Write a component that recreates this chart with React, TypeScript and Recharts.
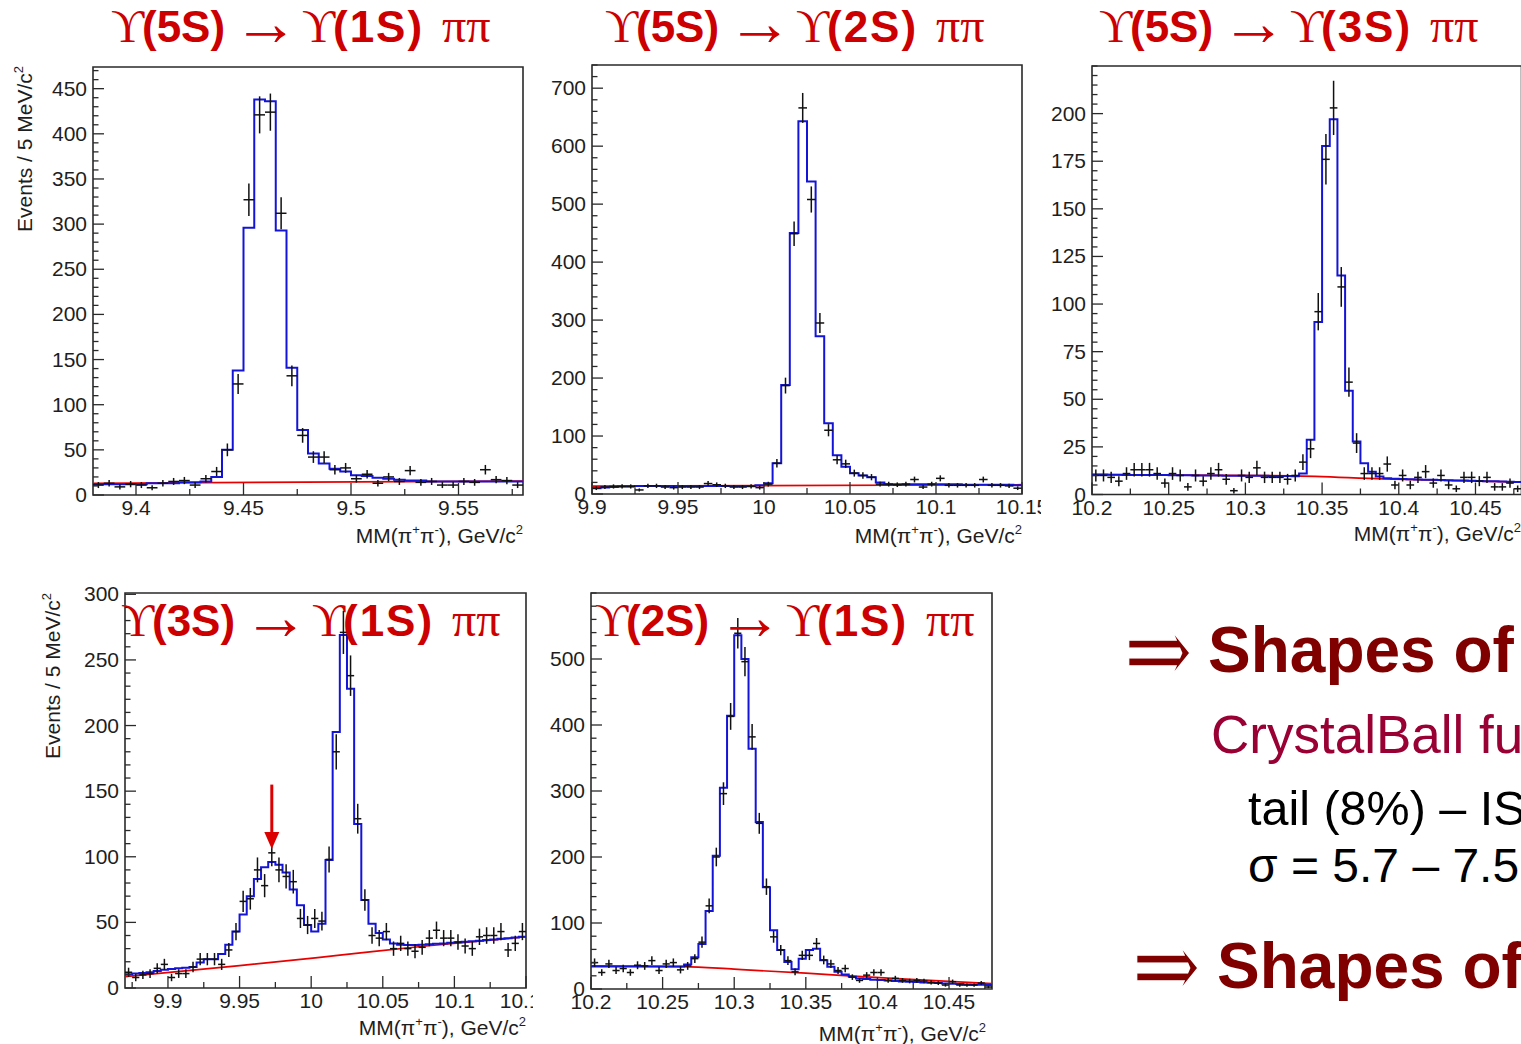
import React from 'react';
import {
  ComposedChart,
  Line,
  Scatter,
  XAxis,
  YAxis,
  ErrorBar,
  ReferenceArea,
  ReferenceLine,
  ReferenceDot,
} from 'recharts';

const SANS = "'Liberation Sans', Arial, Helvetica, sans-serif";
const SERIF = "'Liberation Serif', 'Times New Roman', 'DejaVu Serif', serif";
const BIN = 0.005;

// ---------- Panel 1: Y(5S) -> Y(1S) pi pi ----------
const p1Start = 9.38;
const p1Counts = [11, 13, 9, 12, 11, 8, 13, 15, 16, 11, 18, 26, 50, 123, 327, 421, 424, 312, 132, 66, 42, 42, 28, 30, 18, 23, 13, 20, 15, 27, 14, 15, 11, 11, 15, 14, 28, 17, 16, 11];
const p1Fit = [12, 12, 12, 12, 12, 13, 13, 13, 14, 14, 15, 20, 50, 138, 296, 438, 436, 293, 141, 72, 46, 35, 29, 26, 22, 21, 19, 18, 17, 16, 16, 15, 15, 15, 15, 15, 15, 15, 15, 15];
const p1Bkg = [{ x: 9.38, y: 13 }, { x: 9.58, y: 15.5 }];
const p1XMajor = [9.4, 9.45, 9.5, 9.55];
const p1XMinor = [9.425, 9.475, 9.525, 9.575];
const p1YMajor = [0, 50, 100, 150, 200, 250, 300, 350, 400, 450];

// ---------- Panel 2: Y(5S) -> Y(2S) pi pi ----------
const p2Start = 9.9;
const p2Counts = [10, 12, 13, 13, 13, 7, 14, 14, 12, 11, 12, 12, 12, 18, 16, 14, 12, 12, 13, 11, 17, 53, 187, 449, 666, 508, 295, 110, 59, 52, 36, 32, 29, 17, 17, 16, 17, 25, 12, 17, 27, 15, 15, 15, 15, 25, 15, 15, 14, 10];
const p2Fit = [10, 11, 12, 13, 13, 14, 14, 14, 14, 14, 14, 14, 14, 14, 14, 14, 14, 14, 14, 15, 18.5, 53, 188, 450, 643, 539, 272, 122, 67, 47, 36, 32, 29, 20, 17, 17, 17, 17, 17, 17, 17, 17, 17, 16, 16, 16, 16, 16, 16, 15];
const p2Bkg = [{ x: 9.9, y: 13.5 }, { x: 10.15, y: 16 }];
const p2XMajor = [9.9, 9.95, 10, 10.05, 10.1, 10.15];
const p2XMinor = [9.925, 9.975, 10.025, 10.075, 10.125];
const p2YMajor = [0, 100, 200, 300, 400, 500, 600, 700];

// ---------- Panel 3: Y(5S) -> Y(3S) pi pi ----------
const p3Start = 10.2;
const p3Counts = [10, 10, 9, 7, 11, 13, 13, 13, 11, 6, 11, 10, 4, 10, 7, 11, 13, 8, 2, 10, 9, 14, 9, 9, 9, 8, 10, 17, 24, 96, 176, 203, 109, 59, 27, 11, 11, 11, 16, 5, 10, 5, 9, 12, 6, 10, 5, 3, 9, 9, 7, 9, 4, 4, 6, 3];
const p3Fit = [10.5, 10.5, 10.4, 10.4, 10.3, 10.3, 10.3, 10.2, 10.2, 10.2, 10.1, 10.1, 10.1, 10, 10, 10, 10, 9.9, 9.9, 9.9, 9.8, 9.8, 9.8, 9.7, 9.7, 9.7, 9.6, 11, 28.7, 90.6, 183, 197, 115, 54.5, 27.8, 16.4, 12, 9.4, 8.5, 8.3, 8.2, 8, 7.9, 7.8, 7.7, 7.6, 7.5, 7.4, 7.3, 7.2, 7.1, 7, 6.9, 6.8, 6.7, 6.6];
const p3Bkg = [{ x: 10.2, y: 10.4 }, { x: 10.33, y: 9.8 }, { x: 10.39, y: 8.2 }, { x: 10.48, y: 6.5 }];
const p3XMajor = [10.2, 10.25, 10.3, 10.35, 10.4, 10.45];
const p3XMinor = [10.225, 10.275, 10.325, 10.375, 10.425, 10.475];
const p3YMajor = [0, 25, 50, 75, 100, 125, 150, 175, 200];

// ---------- Panel 4: Y(3S) -> Y(1S) pi pi ----------
const p4Start = 9.87;
const p4Counts = [12, 8, 10, 11, 15, 18, 8, 11, 11, 16, 22, 22, 22, 18, 29, 43, 66, 68, 90, 78, 103, 90, 85, 81, 53, 48, 53, 51, 98, 180, 271, 238, 129, 67, 40, 38, 43, 30, 34, 30, 28, 31, 38, 44, 38, 38, 35, 32, 30, 39, 40, 40, 43, 29, 34, 43];
const p4Fit = [10.5, 11, 11.5, 12, 13, 14, 14.5, 15, 15.5, 16, 19.5, 22, 22, 26, 33, 43, 56, 70, 83, 92, 96, 94, 88, 75, 63, 48, 43, 49, 97.5, 195, 269, 228, 125, 67, 49, 42, 37, 34, 33, 32.7, 32.7, 33, 33.3, 33.7, 34, 34.4, 34.8, 35.2, 35.6, 36, 36.5, 37, 37.5, 38, 38.5, 39];
const p4Bkg = [{ x: 9.87, y: 8.6 }, { x: 9.95, y: 17 }, { x: 10.02, y: 25 }, { x: 10.08, y: 32 }, { x: 10.15, y: 39 }];
const p4XMajor = [9.9, 9.95, 10, 10.05, 10.1, 10.15];
const p4XMinor = [9.875, 9.925, 9.975, 10.025, 10.075, 10.125];
const p4YMajor = [0, 50, 100, 150, 200, 250, 300];
const p4Arrow = { x: 9.9725, yTop: 155, yTip: 106 };

// ---------- Panel 5: Y(2S) -> Y(1S) pi pi ----------
const p5Start = 10.2;
const p5Counts = [40, 25, 38, 28, 31, 25, 36, 35, 43, 28, 38, 40, 29, 35, 46, 71, 126, 200, 296, 413, 539, 496, 382, 251, 155, 79, 59, 43, 26, 51, 51, 69, 44, 38, 28, 31, 18, 13, 21, 25, 25, 13, 16, 13, 12, 13, 12, 10, 9, 6, 11, 6, 6, 6, 9, 3];
const p5Fit = [34, 34, 34, 34, 34, 34, 34, 34, 34, 34, 34, 34, 34, 37, 48, 68, 118, 202, 305, 414, 536, 500, 364, 253, 154, 89, 59, 41, 30, 46, 59, 61, 43.6, 33.8, 26, 22, 18.7, 16, 15, 14, 13.5, 13, 12, 11.5, 11, 10.5, 10, 9.5, 9, 8.5, 8, 7.5, 7, 6.5, 6.5, 6];
const p5Bkg = [{ x: 10.2, y: 35 }, { x: 10.265, y: 34 }, { x: 10.3, y: 30 }, { x: 10.35, y: 24 }, { x: 10.38, y: 20 }, { x: 10.42, y: 15 }, { x: 10.48, y: 8 }];
const p5XMajor = [10.2, 10.25, 10.3, 10.35, 10.4, 10.45];
const p5XMinor = [10.225, 10.275, 10.325, 10.375, 10.425, 10.475];
const p5YMajor = [0, 100, 200, 300, 400, 500];

const fmt = (v: number) => String(parseFloat(v.toFixed(3)));
const isIn = (v: number, arr: number[]) => arr.some((m) => Math.abs(m - v) < 1e-7);
const minorSteps = (max: number, step: number) => {
  const out: number[] = [];
  for (let k = 0; k * step <= max + 1e-9; k++) out.push(k * step);
  return out;
};

type Cfg = {
  L: number; T: number; R: number; B: number; padRight: number;
  xDomain: [number, number]; yDomain: [number, number];
  xMajor: number[]; xMinor: number[]; yMajor: number[]; yMinorStep: number;
  start: number; counts: number[]; fit: number[]; bkg: { x: number; y: number }[];
  arrow?: { x: number; yTop: number; yTip: number };
};

const YW = 60;
const XH = 40;
const MT = 8;
const AXIS = '#2a2a2a';
const TXT = '#1e1e1e';

function Panel({ cfg }: { cfg: Cfg }) {
  const plotW = cfg.R - cfg.L;
  const plotH = cfg.B - cfg.T;
  const w = YW + plotW + cfg.padRight;
  const h = MT + plotH + XH;
  const plotBottom = MT + plotH;
  const hist = cfg.fit.map((v, i) => ({ x: cfg.start + i * BIN, y: v }));
  hist.push({ x: cfg.start + cfg.fit.length * BIN, y: cfg.fit[cfg.fit.length - 1] });
  const pts = cfg.counts.map((c, i) => ({
    x: cfg.start + (i + 0.5) * BIN,
    y: c,
    ey: Math.sqrt(c),
    ex: BIN / 2,
  }));
  const yMinor = minorSteps(cfg.yDomain[1], cfg.yMinorStep);
  const yTicks = Array.from(new Set([...yMinor, ...cfg.yMajor])).sort((a, b) => a - b);
  const xTicks = [...cfg.xMajor, ...cfg.xMinor].sort((a, b) => a - b);

  const xTick = (p: any) => {
    const v = p.payload.value;
    const x = p.payload.coordinate ?? p.x;
    const major = isIn(v, cfg.xMajor);
    return (
      <g>
        <line x1={x} x2={x} y1={plotBottom} y2={plotBottom - (major ? 12 : 6)} stroke={AXIS} strokeWidth={1.3} />
        {major && (
          <text x={x} y={plotBottom + 20} textAnchor="middle" fontSize={21} fontFamily={SANS} fill={TXT}>
            {fmt(v)}
          </text>
        )}
      </g>
    );
  };
  const yTick = (p: any) => {
    const v = p.payload.value;
    const y = p.payload.coordinate ?? p.y;
    const major = isIn(v, cfg.yMajor);
    return (
      <g>
        <line x1={YW} x2={YW + (major ? 11 : 5.5)} y1={y} y2={y} stroke={AXIS} strokeWidth={1.3} />
        {major && (
          <text x={YW - 6} y={y + 7} textAnchor="end" fontSize={21} fontFamily={SANS} fill={TXT}>
            {fmt(v)}
          </text>
        )}
      </g>
    );
  };

  return (
    <div style={{ position: 'absolute', left: cfg.L - YW, top: cfg.T - MT, width: w, height: h }}>
      <ComposedChart width={w} height={h} margin={{ top: MT, right: cfg.padRight, bottom: 0, left: 0 }}>
        <XAxis
          dataKey="x"
          type="number"
          domain={cfg.xDomain}
          allowDataOverflow
          ticks={xTicks}
          interval={0}
          tick={xTick}
          tickLine={false}
          axisLine={false}
          tickSize={0}
          tickMargin={0}
          height={XH}
        />
        <YAxis
          dataKey="y"
          type="number"
          domain={cfg.yDomain}
          allowDataOverflow
          ticks={yTicks}
          interval={0}
          tick={yTick}
          tickLine={false}
          axisLine={false}
          tickSize={0}
          tickMargin={0}
          width={YW}
        />
        <Line data={cfg.bkg} dataKey="y" type="monotone" stroke="#e80000" strokeWidth={1.7} dot={false} isAnimationActive={false} />
        <Line data={hist} dataKey="y" type="stepAfter" stroke="#1414d8" strokeWidth={2} dot={false} isAnimationActive={false} />
        <Scatter data={pts} dataKey="y" shape={() => <g />} isAnimationActive={false}>
          <ErrorBar dataKey="ey" direction="y" width={0} stroke="#111" strokeWidth={1.5} />
          <ErrorBar dataKey="ex" direction="x" width={0} stroke="#111" strokeWidth={1.5} />
        </Scatter>
        {cfg.arrow && (
          <ReferenceLine
            segment={[{ x: cfg.arrow.x, y: cfg.arrow.yTop }, { x: cfg.arrow.x, y: cfg.arrow.yTip + 12 }]}
            stroke="#dd0000"
            strokeWidth={3}
            ifOverflow="visible"
          />
        )}
        {cfg.arrow && (
          <ReferenceDot
            x={cfg.arrow.x}
            y={cfg.arrow.yTip}
            ifOverflow="visible"
            shape={(p: any) => (
              <path d={`M${p.cx},${p.cy} L${p.cx - 7.5},${p.cy - 17} L${p.cx + 7.5},${p.cy - 17} Z`} fill="#dd0000" />
            )}
          />
        )}
        <ReferenceArea
          x1={cfg.xDomain[0]}
          x2={cfg.xDomain[1]}
          y1={cfg.yDomain[0]}
          y2={cfg.yDomain[1]}
          fill="none"
          fillOpacity={0}
          stroke={AXIS}
          strokeWidth={1.6}
          ifOverflow="visible"
        />
      </ComposedChart>
    </div>
  );
}

const panels: Cfg[] = [
  { L: 93, T: 67, R: 523, B: 495, padRight: 22, xDomain: [9.38, 9.58], yDomain: [0, 474], xMajor: p1XMajor, xMinor: p1XMinor, yMajor: p1YMajor, yMinorStep: 10, start: p1Start, counts: p1Counts, fit: p1Fit, bkg: p1Bkg },
  { L: 592, T: 65, R: 1022, B: 494, padRight: 19, xDomain: [9.9, 10.15], yDomain: [0, 740], xMajor: p2XMajor, xMinor: p2XMinor, yMajor: p2YMajor, yMinorStep: 20, start: p2Start, counts: p2Counts, fit: p2Fit, bkg: p2Bkg },
  { L: 1092, T: 66, R: 1521.5, B: 494.5, padRight: 0, xDomain: [10.2, 10.48], yDomain: [0, 225], xMajor: p3XMajor, xMinor: p3XMinor, yMajor: p3YMajor, yMinorStep: 5, start: p3Start, counts: p3Counts, fit: p3Fit, bkg: p3Bkg },
  { L: 125, T: 593, R: 526, B: 988, padRight: 7, xDomain: [9.87, 10.15], yDomain: [0, 301], xMajor: p4XMajor, xMinor: p4XMinor, yMajor: p4YMajor, yMinorStep: 10, start: p4Start, counts: p4Counts, fit: p4Fit, bkg: p4Bkg, arrow: p4Arrow },
  { L: 591, T: 593, R: 992, B: 989, padRight: 20, xDomain: [10.2, 10.48], yDomain: [0, 600], xMajor: p5XMajor, xMinor: p5XMinor, yMajor: p5YMajor, yMinorStep: 20, start: p5Start, counts: p5Counts, fit: p5Fit, bkg: p5Bkg },
];

const titles = [
  { x: 111, y: 42, a: '5S', b: '1S' },
  { x: 605, y: 42, a: '5S', b: '2S' },
  { x: 1099, y: 42, a: '5S', b: '3S' },
  { x: 121, y: 636, a: '3S', b: '1S' },
  { x: 595, y: 636, a: '2S', b: '1S' },
];

const xLabels = [
  { x: 523, y: 543 },
  { x: 1022, y: 543 },
  { x: 1521, y: 541 },
  { x: 526, y: 1035 },
  { x: 986, y: 1041 },
];

const yLabels = [
  { x: 32, y: 66 },
  { x: 60, y: 593 },
];

function Title({ x, y, a, b }: { x: number; y: number; a: string; b: string }) {
  return (
    <text y={y} fontSize={44} fill="#cc0000">
      <tspan x={x} fontFamily={SERIF} fontSize={46}>{'\u03D2'}</tspan>
      <tspan x={x + 31} fontFamily={SANS} fontWeight={700}>{`(${a})`}</tspan>
      <tspan x={x + 122} dy={3} fontFamily={SERIF} fontSize={66}>{'\u2192'}</tspan>
      <tspan x={x + 191} dy={-3} fontFamily={SERIF} fontSize={46}>{'\u03D2'}</tspan>
      <tspan x={x + 222} fontFamily={SANS} fontWeight={700} letterSpacing={2}>{`(${b})`}</tspan>
      <tspan x={x + 331} fontFamily={SERIF} fontSize={48}>{'\u03C0\u03C0'}</tspan>
    </text>
  );
}

export default function App() {
  return (
    <div style={{ position: 'absolute', left: 0, top: 0, width: 1521, height: 1044, overflow: 'hidden', background: '#fff' }}>
      {panels.map((c, i) => (
        <Panel key={i} cfg={c} />
      ))}
      <svg width={1521} height={1044} style={{ position: 'absolute', left: 0, top: 0, pointerEvents: 'none' }}>
        {titles.map((t, i) => (
          <Title key={i} {...t} />
        ))}
        {xLabels.map((l, i) => (
          <text key={i} x={l.x} y={l.y} textAnchor="end" fontSize={21} fontFamily={SANS} fill={TXT}>
            {'MM(\u03C0'}
            <tspan dy={-9} fontSize={13}>+</tspan>
            <tspan dy={9}>{'\u03C0'}</tspan>
            <tspan dy={-9} fontSize={13}>-</tspan>
            <tspan dy={9}>{'), GeV/c'}</tspan>
            <tspan dy={-9} fontSize={13}>2</tspan>
          </text>
        ))}
        {yLabels.map((l, i) => (
          <text key={i} transform={`translate(${l.x},${l.y}) rotate(-90)`} textAnchor="end" fontSize={21} fontFamily={SANS} fill={TXT}>
            {'Events / 5 MeV/c'}
            <tspan dy={-9} fontSize={13}>2</tspan>
          </text>
        ))}
        <text transform="translate(1124,686) scale(1,1.25)" x={0} y={0} fontSize={82} fontFamily={SERIF} fill="#800000" stroke="#fff" strokeWidth={1.2}>{'\u21D2'}</text>
        <text x={1208} y={672} fontSize={64} fontFamily={SANS} fontWeight={700} fill="#800000">Shapes of signals</text>
        <text x={1211} y={753} fontSize={53} fontFamily={SANS} fill="#990033">CrystalBall function</text>
        <text x={1248} y={825} fontSize={48.5} fontFamily={SANS} fill="#000">{'tail (8%) \u2013 ISR'}</text>
        <text x={1248} y={882} fontSize={48} fontFamily={SANS} fill="#000">{'\u03C3 = 5.7 \u2013 7.5 MeV'}</text>
        <text transform="translate(1132,1001) scale(1,1.25)" x={0} y={0} fontSize={82} fontFamily={SERIF} fill="#800000" stroke="#fff" strokeWidth={1.2}>{'\u21D2'}</text>
        <text x={1217} y={988} fontSize={64} fontFamily={SANS} fontWeight={700} fill="#800000">Shapes of background</text>
      </svg>
    </div>
  );
}
